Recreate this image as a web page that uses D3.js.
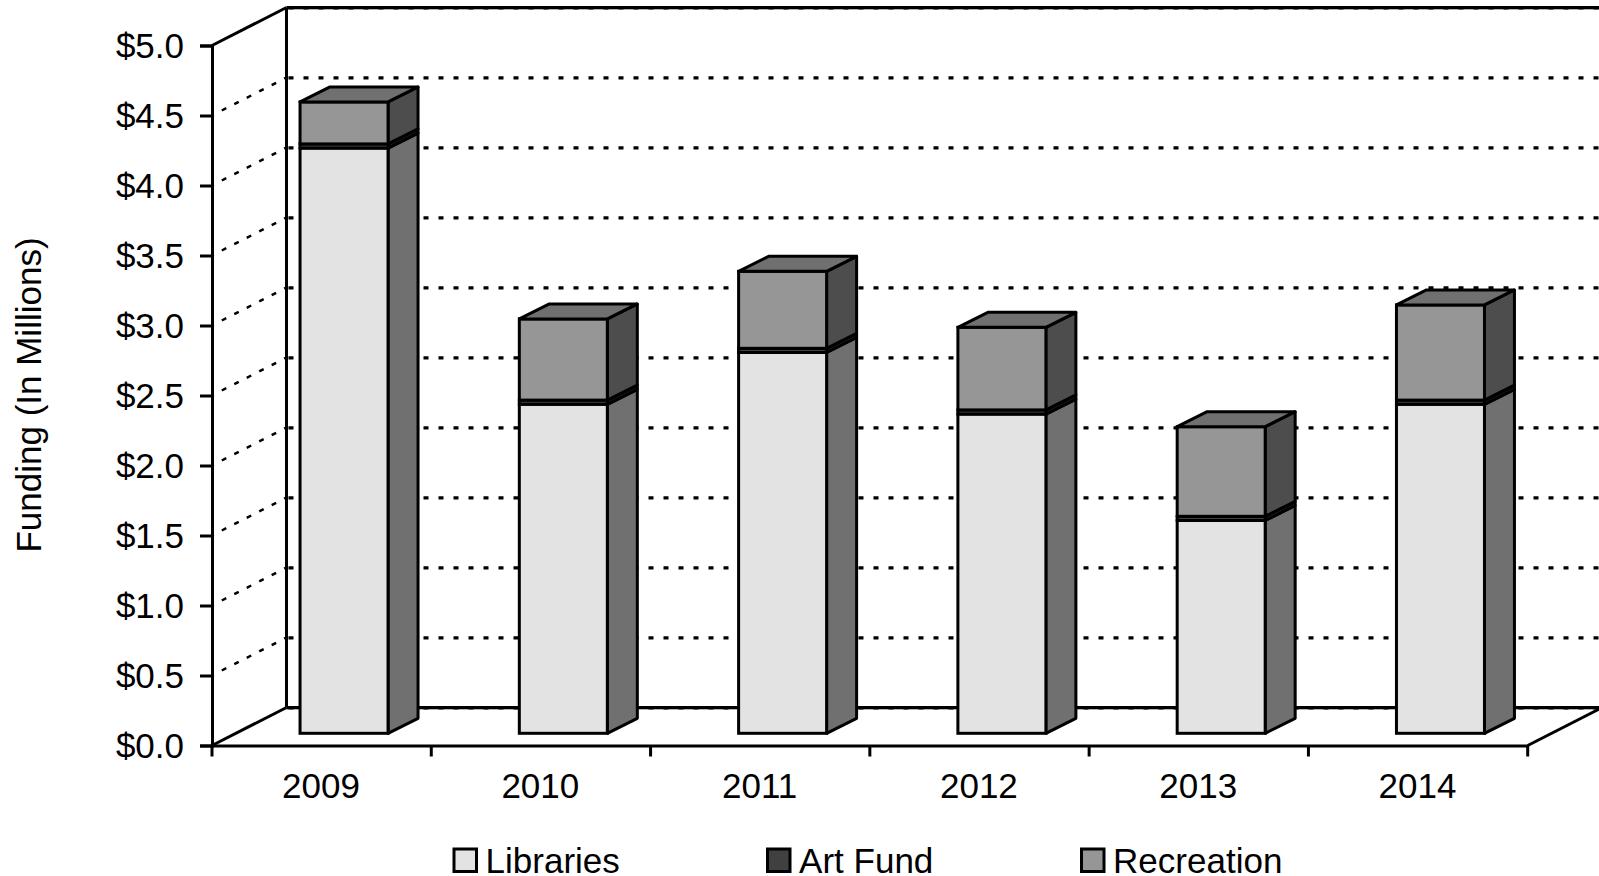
<!DOCTYPE html>
<html>
<head>
<meta charset="utf-8">
<style>
html, body { margin: 0; padding: 0; background: #fff; overflow: hidden; }
svg { display: block; }
text { font-family: "Liberation Sans", Arial, sans-serif; fill: #000; }
</style>
</head>
<body>
<div id="chart"></div>
<script src="https://cdn.jsdelivr.net/npm/d3@7"></script>
<script>
// Data
var years = ["2009", "2010", "2011", "2012", "2013", "2014"];
var libraries = [4.18, 2.35, 2.72, 2.28, 1.52, 2.35];
var artFund = [0.03, 0.03, 0.03, 0.03, 0.03, 0.03];
var recreation = [0.30, 0.58, 0.55, 0.59, 0.64, 0.68];
var seriesNames = ["Libraries", "Art Fund", "Recreation"];
var yTicks = [0, 0.5, 1, 1.5, 2, 2.5, 3, 3.5, 4, 4.5, 5];

// Layout
var width = 1599,
	height = 876,
	x0 = 212,
	x1 = 1527.7,
	y0 = 745.5,
	y1 = 45.5,
	wallDx = 74.5,
	wallDy = -38,
	// front face of a bar sits this far into the floor
	barInDx = 22.4,
	barInDy = -12.2,
	barDx = 30,
	barDy = -15,
	barWidth = 88,
	fontSize = 35,
	lineWidth = 3;

var colors = { "Libraries": "#e3e3e3", "Art Fund": "#404040", "Recreation": "#969696" };
var sideColors = { "Libraries": "#707070", "Art Fund": "#202020", "Recreation": "#4d4d4d" };
var topColor = "#707070";

var svg = d3.select("#chart")
	.append("svg")
	.attr("width", width)
	.attr("height", height);

var x = d3.scaleBand().domain(years).range([x0, x1]);
var y = d3.scaleLinear().domain([0, 5]).range([y0, y1]);

// Walls
var walls = svg.append("g");

// grey shadow under the top and floor lines
walls.selectAll(".edge-shadow")
	.data([0, 5])
	.enter().append("line")
	.attr("x1", x0 + wallDx)
	.attr("x2", width)
	.attr("y1", function(d) { return y(d) + wallDy + 1.5; })
	.attr("y2", function(d) { return y(d) + wallDy + 1.5; })
	.attr("stroke", "#999")
	.attr("stroke-width", 1.5);

// dotted grid, side wall then back wall
walls.selectAll(".side-grid")
	.data(yTicks.filter(function(d) { return d > 0 && d < 5; }))
	.enter().append("line")
	.attr("x1", x0)
	.attr("y1", function(d) { return y(d); })
	.attr("x2", x0 + wallDx)
	.attr("y2", function(d) { return y(d) + wallDy; })
	.attr("stroke", "#000")
	.attr("stroke-width", 2.5)
	.attr("stroke-dasharray", "5,9")
	.attr("stroke-dashoffset", -11);

walls.selectAll(".back-grid")
	.data(yTicks)
	.enter().append("line")
	.attr("x1", x0 + wallDx + 2)
	.attr("y1", function(d) { return y(d) + wallDy + 0.4; })
	.attr("x2", width)
	.attr("y2", function(d) { return y(d) + wallDy + 0.4; })
	.attr("stroke", "#000")
	.attr("stroke-width", 3.2)
	.attr("stroke-dasharray", "5,10");

// outlines of wall and floor
var outline = [
	[x0, y(5), x0 + wallDx, y(5) + wallDy],
	[x0 + wallDx, y(5) + wallDy, width, y(5) + wallDy],
	[x0 + wallDx, y(5) + wallDy, x0 + wallDx, y(0) + wallDy],
	[x0, y(0), x0 + wallDx, y(0) + wallDy],
	[x0 + wallDx, y(0) + wallDy, width, y(0) + wallDy],
	[x1, y(0), x1 + wallDx, y(0) + wallDy]
];
walls.selectAll(".outline")
	.data(outline)
	.enter().append("line")
	.attr("x1", function(d) { return d[0]; })
	.attr("y1", function(d) { return d[1]; })
	.attr("x2", function(d) { return d[2]; })
	.attr("y2", function(d) { return d[3]; })
	.attr("stroke", "#000")
	.attr("stroke-width", lineWidth);

// Axes
var yAxis = d3.axisLeft(y)
	.tickValues(yTicks)
	.tickFormat(d3.format("$.1f"))
	.tickSize(12)
	.tickPadding(16);
var gy = svg.append("g")
	.attr("transform", "translate(" + x0 + ",0)")
	.call(yAxis);
gy.selectAll(".tick line").attr("x2", 2).attr("x1", -12);
gy.selectAll(".tick text").attr("dy", "0.345em");

var xAxis = d3.axisBottom(x)
	.tickSize(0)
	.tickPadding(28);
var gx = svg.append("g")
	.attr("transform", "translate(0," + y0 + ")")
	.call(xAxis);
gx.selectAll(".tick text").attr("dx", -0.6);

// ticks on the x axis go between the categories
gx.selectAll(".edge")
	.data(years.concat(["end"]))
	.enter().append("line")
	.attr("x1", function(d, i) { return x0 + i * x.bandwidth(); })
	.attr("x2", function(d, i) { return x0 + i * x.bandwidth(); })
	.attr("y1", 0)
	.attr("y2", 11)
	.attr("stroke", "#000")
	.attr("stroke-width", lineWidth);

svg.selectAll(".domain, .tick line")
	.attr("stroke", "#000")
	.attr("stroke-width", lineWidth);
svg.selectAll(".tick text")
	.attr("font-family", "'Liberation Sans', Arial, sans-serif")
	.attr("font-size", fontSize)
	.attr("fill", "#000");

// Bars
var bars = svg.append("g");

years.forEach(function(year, i) {
	var left = x(year) + x.bandwidth() / 2 + barInDx - barWidth / 2;
	var right = left + barWidth;
	var segments = [
		{ name: "Libraries", from: 0, to: libraries[i] },
		{ name: "Art Fund", from: libraries[i], to: libraries[i] + artFund[i] },
		{ name: "Recreation", from: libraries[i] + artFund[i], to: libraries[i] + artFund[i] + recreation[i] }
	];
	var g = bars.append("g").attr("class", "bar");

	segments.forEach(function(s) {
		var yb = y(s.from) + barInDy;
		var yt = y(s.to) + barInDy;
		g.append("polygon")
			.attr("points", [[right, yb], [right + barDx, yb + barDy], [right + barDx, yt + barDy], [right, yt]].join(" "))
			.attr("fill", sideColors[s.name])
			.attr("stroke", "#000")
			.attr("stroke-width", lineWidth)
			.attr("stroke-linejoin", "round");
		g.append("rect")
			.attr("x", left)
			.attr("y", yt)
			.attr("width", barWidth)
			.attr("height", yb - yt)
			.attr("fill", colors[s.name])
			.attr("stroke", "#000")
			.attr("stroke-width", lineWidth);
	});

	var topY = y(segments[2].to) + barInDy;
	g.append("polygon")
		.attr("points", [[left, topY], [left + barDx, topY + barDy], [right + barDx, topY + barDy], [right, topY]].join(" "))
		.attr("fill", topColor)
		.attr("stroke", "#000")
		.attr("stroke-width", lineWidth)
		.attr("stroke-linejoin", "round");
});

// Axis title
svg.append("text")
	.attr("transform", "translate(41,395) rotate(-90)")
	.attr("text-anchor", "middle")
	.attr("font-size", fontSize)
	.text("Funding (In Millions)");

// Legend
var legendX = d3.scaleOrdinal().domain(seriesNames).range([454, 767.5, 1081.5]);
var legend = svg.selectAll(".legend")
	.data(seriesNames)
	.enter().append("g")
	.attr("class", "legend")
	.attr("transform", function(d) { return "translate(" + legendX(d) + ",849)"; });
legend.append("rect")
	.attr("width", 22.5)
	.attr("height", 22.5)
	.attr("fill", function(d) { return colors[d]; })
	.attr("stroke", "#000")
	.attr("stroke-width", lineWidth);
legend.append("text")
	.attr("x", 31.6)
	.attr("y", 24)
	.attr("font-size", fontSize)
	.text(function(d) { return d; });
</script>
</body>
</html>
